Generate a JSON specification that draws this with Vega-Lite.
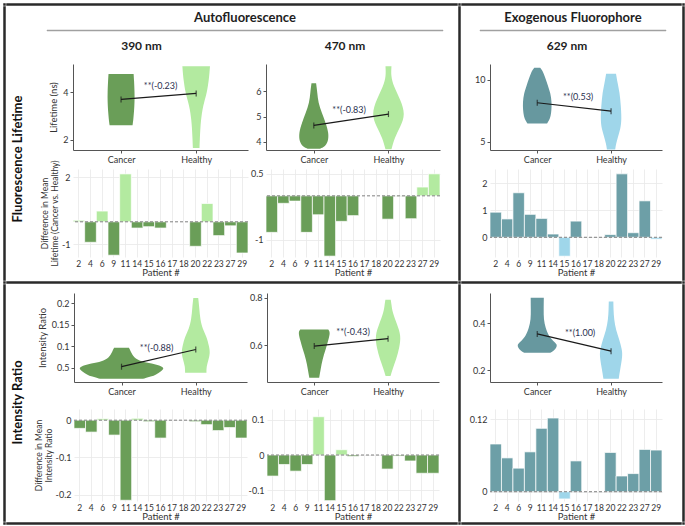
{
  "$schema": "https://vega.github.io/schema/vega-lite/v6.json",
  "padding": {"left": 3, "top": 3, "right": 2, "bottom": 1},
  "background": "white",
  "columns": 5,
  "spacing": 0,
  "align": "each",
  "datasets": {
    "violins": [
      {"panel":"L390","grp":"Cancer","v":4.77,"lo":0.833,"hi":1.167},
      {"panel":"L390","grp":"Cancer","v":4.5,"lo":0.827,"hi":1.173},
      {"panel":"L390","grp":"Cancer","v":4.0,"lo":0.82,"hi":1.18},
      {"panel":"L390","grp":"Cancer","v":3.6,"lo":0.82,"hi":1.18},
      {"panel":"L390","grp":"Cancer","v":3.2,"lo":0.827,"hi":1.173},
      {"panel":"L390","grp":"Cancer","v":2.85,"lo":0.837,"hi":1.163},
      {"panel":"L390","grp":"Cancer","v":2.61,"lo":0.847,"hi":1.153},
      {"panel":"L390","grp":"Healthy","v":5.1,"lo":1.816,"hi":2.184},
      {"panel":"L390","grp":"Healthy","v":4.8,"lo":1.823,"hi":2.177},
      {"panel":"L390","grp":"Healthy","v":4.55,"lo":1.831,"hi":2.169},
      {"panel":"L390","grp":"Healthy","v":4.0,"lo":1.856,"hi":2.144},
      {"panel":"L390","grp":"Healthy","v":3.6,"lo":1.893,"hi":2.107},
      {"panel":"L390","grp":"Healthy","v":3.28,"lo":1.916,"hi":2.084},
      {"panel":"L390","grp":"Healthy","v":2.9,"lo":1.933,"hi":2.067},
      {"panel":"L390","grp":"Healthy","v":2.57,"lo":1.943,"hi":2.057},
      {"panel":"L390","grp":"Healthy","v":2.0,"lo":1.952,"hi":2.048},
      {"panel":"L390","grp":"Healthy","v":1.65,"lo":1.956,"hi":2.044},
      {"panel":"L470","grp":"Cancer","v":6.32,"lo":0.969,"hi":1.031},
      {"panel":"L470","grp":"Cancer","v":5.95,"lo":0.953,"hi":1.047},
      {"panel":"L470","grp":"Cancer","v":5.55,"lo":0.94,"hi":1.06},
      {"panel":"L470","grp":"Cancer","v":5.15,"lo":0.893,"hi":1.107},
      {"panel":"L470","grp":"Cancer","v":4.75,"lo":0.84,"hi":1.16},
      {"panel":"L470","grp":"Cancer","v":4.35,"lo":0.8,"hi":1.2},
      {"panel":"L470","grp":"Cancer","v":4.01,"lo":0.807,"hi":1.193},
      {"panel":"L470","grp":"Cancer","v":3.81,"lo":0.853,"hi":1.147},
      {"panel":"L470","grp":"Cancer","v":3.73,"lo":0.92,"hi":1.08},
      {"panel":"L470","grp":"Healthy","v":6.99,"lo":1.96,"hi":2.04},
      {"panel":"L470","grp":"Healthy","v":6.61,"lo":1.967,"hi":2.033},
      {"panel":"L470","grp":"Healthy","v":6.21,"lo":1.933,"hi":2.067},
      {"panel":"L470","grp":"Healthy","v":5.68,"lo":1.84,"hi":2.16},
      {"panel":"L470","grp":"Healthy","v":5.08,"lo":1.773,"hi":2.227},
      {"panel":"L470","grp":"Healthy","v":4.61,"lo":1.84,"hi":2.16},
      {"panel":"L470","grp":"Healthy","v":4.15,"lo":1.92,"hi":2.08},
      {"panel":"L470","grp":"Healthy","v":3.71,"lo":1.96,"hi":2.04},
      {"panel":"L629","grp":"Cancer","v":10.98,"lo":0.96,"hi":1.04},
      {"panel":"L629","grp":"Cancer","v":10.6,"lo":0.913,"hi":1.087},
      {"panel":"L629","grp":"Cancer","v":9.55,"lo":0.856,"hi":1.144},
      {"panel":"L629","grp":"Cancer","v":8.9,"lo":0.82,"hi":1.18},
      {"panel":"L629","grp":"Cancer","v":8.2,"lo":0.804,"hi":1.196},
      {"panel":"L629","grp":"Cancer","v":7.6,"lo":0.807,"hi":1.193},
      {"panel":"L629","grp":"Cancer","v":7.07,"lo":0.817,"hi":1.183},
      {"panel":"L629","grp":"Cancer","v":6.7,"lo":0.84,"hi":1.16},
      {"panel":"L629","grp":"Cancer","v":6.47,"lo":0.867,"hi":1.133},
      {"panel":"L629","grp":"Healthy","v":10.5,"lo":1.933,"hi":2.067},
      {"panel":"L629","grp":"Healthy","v":9.8,"lo":1.913,"hi":2.087},
      {"panel":"L629","grp":"Healthy","v":8.97,"lo":1.884,"hi":2.116},
      {"panel":"L629","grp":"Healthy","v":7.9,"lo":1.867,"hi":2.133},
      {"panel":"L629","grp":"Healthy","v":6.8,"lo":1.857,"hi":2.143},
      {"panel":"L629","grp":"Healthy","v":6.0,"lo":1.873,"hi":2.127},
      {"panel":"L629","grp":"Healthy","v":5.4,"lo":1.907,"hi":2.093},
      {"panel":"L629","grp":"Healthy","v":4.8,"lo":1.933,"hi":2.067},
      {"panel":"L629","grp":"Healthy","v":4.37,"lo":1.944,"hi":2.056},
      {"panel":"I390","grp":"Cancer","v":0.0968,"lo":0.9,"hi":1.1},
      {"panel":"I390","grp":"Cancer","v":0.09,"lo":0.88,"hi":1.12},
      {"panel":"I390","grp":"Cancer","v":0.0738,"lo":0.836,"hi":1.164},
      {"panel":"I390","grp":"Cancer","v":0.065,"lo":0.733,"hi":1.267},
      {"panel":"I390","grp":"Cancer","v":0.061,"lo":0.6,"hi":1.4},
      {"panel":"I390","grp":"Cancer","v":0.053,"lo":0.427,"hi":1.573},
      {"panel":"I390","grp":"Cancer","v":0.046,"lo":0.44,"hi":1.56},
      {"panel":"I390","grp":"Cancer","v":0.041,"lo":0.48,"hi":1.52},
      {"panel":"I390","grp":"Cancer","v":0.035,"lo":0.533,"hi":1.467},
      {"panel":"I390","grp":"Cancer","v":0.03,"lo":0.6,"hi":1.4},
      {"panel":"I390","grp":"Cancer","v":0.025,"lo":0.711,"hi":1.289},
      {"panel":"I390","grp":"Healthy","v":0.2125,"lo":1.967,"hi":2.033},
      {"panel":"I390","grp":"Healthy","v":0.19,"lo":1.953,"hi":2.047},
      {"panel":"I390","grp":"Healthy","v":0.162,"lo":1.94,"hi":2.06},
      {"panel":"I390","grp":"Healthy","v":0.14,"lo":1.907,"hi":2.093},
      {"panel":"I390","grp":"Healthy","v":0.124,"lo":1.856,"hi":2.144},
      {"panel":"I390","grp":"Healthy","v":0.1,"lo":1.82,"hi":2.18},
      {"panel":"I390","grp":"Healthy","v":0.085,"lo":1.807,"hi":2.193},
      {"panel":"I390","grp":"Healthy","v":0.07,"lo":1.827,"hi":2.173},
      {"panel":"I390","grp":"Healthy","v":0.054,"lo":1.856,"hi":2.144},
      {"panel":"I390","grp":"Healthy","v":0.039,"lo":1.856,"hi":2.144},
      {"panel":"I470","grp":"Cancer","v":0.667,"lo":0.81,"hi":1.19},
      {"panel":"I470","grp":"Cancer","v":0.655,"lo":0.783,"hi":1.217},
      {"panel":"I470","grp":"Cancer","v":0.625,"lo":0.807,"hi":1.193},
      {"panel":"I470","grp":"Cancer","v":0.58,"lo":0.847,"hi":1.153},
      {"panel":"I470","grp":"Cancer","v":0.541,"lo":0.889,"hi":1.111},
      {"panel":"I470","grp":"Cancer","v":0.5,"lo":0.913,"hi":1.087},
      {"panel":"I470","grp":"Cancer","v":0.464,"lo":0.933,"hi":1.067},
      {"panel":"I470","grp":"Healthy","v":0.792,"lo":1.964,"hi":2.036},
      {"panel":"I470","grp":"Healthy","v":0.77,"lo":1.953,"hi":2.047},
      {"panel":"I470","grp":"Healthy","v":0.739,"lo":1.94,"hi":2.06},
      {"panel":"I470","grp":"Healthy","v":0.69,"lo":1.88,"hi":2.12},
      {"panel":"I470","grp":"Healthy","v":0.641,"lo":1.823,"hi":2.177},
      {"panel":"I470","grp":"Healthy","v":0.59,"lo":1.847,"hi":2.153},
      {"panel":"I470","grp":"Healthy","v":0.541,"lo":1.889,"hi":2.111},
      {"panel":"I470","grp":"Healthy","v":0.5,"lo":1.94,"hi":2.06},
      {"panel":"I470","grp":"Healthy","v":0.471,"lo":1.967,"hi":2.033},
      {"panel":"I629","grp":"Cancer","v":0.51,"lo":0.911,"hi":1.089},
      {"panel":"I629","grp":"Cancer","v":0.46,"lo":0.913,"hi":1.087},
      {"panel":"I629","grp":"Cancer","v":0.417,"lo":0.913,"hi":1.087},
      {"panel":"I629","grp":"Cancer","v":0.38,"lo":0.887,"hi":1.113},
      {"panel":"I629","grp":"Cancer","v":0.346,"lo":0.844,"hi":1.156},
      {"panel":"I629","grp":"Cancer","v":0.325,"lo":0.787,"hi":1.213},
      {"panel":"I629","grp":"Cancer","v":0.31,"lo":0.724,"hi":1.276},
      {"panel":"I629","grp":"Cancer","v":0.29,"lo":0.747,"hi":1.253},
      {"panel":"I629","grp":"Cancer","v":0.274,"lo":0.823,"hi":1.177},
      {"panel":"I629","grp":"Healthy","v":0.494,"lo":1.969,"hi":2.031},
      {"panel":"I629","grp":"Healthy","v":0.46,"lo":1.967,"hi":2.033},
      {"panel":"I629","grp":"Healthy","v":0.417,"lo":1.96,"hi":2.04},
      {"panel":"I629","grp":"Healthy","v":0.37,"lo":1.933,"hi":2.067},
      {"panel":"I629","grp":"Healthy","v":0.331,"lo":1.889,"hi":2.111},
      {"panel":"I629","grp":"Healthy","v":0.29,"lo":1.853,"hi":2.147},
      {"panel":"I629","grp":"Healthy","v":0.26,"lo":1.844,"hi":2.156},
      {"panel":"I629","grp":"Healthy","v":0.203,"lo":1.877,"hi":2.123},
      {"panel":"I629","grp":"Healthy","v":0.163,"lo":1.896,"hi":2.104}
    ],
    "means": [
      {"panel":"L390","grp":"Cancer","lo":1,"v":3.7,"label":"**(-0.23)"},
      {"panel":"L390","grp":"Healthy","lo":2,"v":3.95,"label":"**(-0.23)"},
      {"panel":"L470","grp":"Cancer","lo":1,"v":4.65,"label":"**(-0.83)"},
      {"panel":"L470","grp":"Healthy","lo":2,"v":5.1,"label":"**(-0.83)"},
      {"panel":"L629","grp":"Cancer","lo":1,"v":8.15,"label":"**(0.53)"},
      {"panel":"L629","grp":"Healthy","lo":2,"v":7.47,"label":"**(0.53)"},
      {"panel":"I390","grp":"Cancer","lo":1,"v":0.053,"label":"**(-0.88)"},
      {"panel":"I390","grp":"Healthy","lo":2,"v":0.093,"label":"**(-0.88)"},
      {"panel":"I470","grp":"Cancer","lo":1,"v":0.597,"label":"**(-0.43)"},
      {"panel":"I470","grp":"Healthy","lo":2,"v":0.628,"label":"**(-0.43)"},
      {"panel":"I629","grp":"Cancer","lo":1,"v":0.355,"label":"**(1.00)"},
      {"panel":"I629","grp":"Healthy","lo":2,"v":0.281,"label":"**(1.00)"}
    ],
    "bars": [
      {"panel":"L390","patient":"2","d":0.07},
      {"panel":"L390","patient":"4","d":-0.92},
      {"panel":"L390","patient":"6","d":0.48},
      {"panel":"L390","patient":"9","d":-1.5},
      {"panel":"L390","patient":"11","d":2.15},
      {"panel":"L390","patient":"14","d":-0.28},
      {"panel":"L390","patient":"15","d":-0.22},
      {"panel":"L390","patient":"16","d":-0.28},
      {"panel":"L390","patient":"20","d":-1.1},
      {"panel":"L390","patient":"22","d":0.82},
      {"panel":"L390","patient":"23","d":-0.62},
      {"panel":"L390","patient":"27","d":-0.18},
      {"panel":"L390","patient":"29","d":-1.4},
      {"panel":"L470","patient":"2","d":-0.83},
      {"panel":"L470","patient":"4","d":-0.17},
      {"panel":"L470","patient":"6","d":-0.12},
      {"panel":"L470","patient":"9","d":-0.83},
      {"panel":"L470","patient":"11","d":-0.43},
      {"panel":"L470","patient":"14","d":-1.37},
      {"panel":"L470","patient":"15","d":-0.58},
      {"panel":"L470","patient":"16","d":-0.45},
      {"panel":"L470","patient":"20","d":-0.53},
      {"panel":"L470","patient":"22","d":-0.01},
      {"panel":"L470","patient":"23","d":-0.52},
      {"panel":"L470","patient":"27","d":0.2},
      {"panel":"L470","patient":"29","d":0.5},
      {"panel":"L629","patient":"2","d":0.93},
      {"panel":"L629","patient":"4","d":0.68},
      {"panel":"L629","patient":"6","d":1.65},
      {"panel":"L629","patient":"9","d":0.85},
      {"panel":"L629","patient":"11","d":0.7},
      {"panel":"L629","patient":"14","d":0.12},
      {"panel":"L629","patient":"15","d":-0.7},
      {"panel":"L629","patient":"16","d":0.6},
      {"panel":"L629","patient":"20","d":0.1},
      {"panel":"L629","patient":"22","d":2.35},
      {"panel":"L629","patient":"23","d":0.17},
      {"panel":"L629","patient":"27","d":1.35},
      {"panel":"L629","patient":"29","d":-0.07},
      {"panel":"I390","patient":"2","d":-0.022},
      {"panel":"I390","patient":"4","d":-0.032},
      {"panel":"I390","patient":"6","d":0.004},
      {"panel":"I390","patient":"9","d":-0.04},
      {"panel":"I390","patient":"11","d":-0.215},
      {"panel":"I390","patient":"14","d":0.005},
      {"panel":"I390","patient":"15","d":-0.004},
      {"panel":"I390","patient":"16","d":-0.048},
      {"panel":"I390","patient":"20","d":-0.004},
      {"panel":"I390","patient":"22","d":-0.012},
      {"panel":"I390","patient":"23","d":-0.028},
      {"panel":"I390","patient":"27","d":-0.02},
      {"panel":"I390","patient":"29","d":-0.048},
      {"panel":"I470","patient":"2","d":-0.06},
      {"panel":"I470","patient":"4","d":-0.027},
      {"panel":"I470","patient":"6","d":-0.046},
      {"panel":"I470","patient":"9","d":-0.027},
      {"panel":"I470","patient":"11","d":0.109},
      {"panel":"I470","patient":"14","d":-0.13},
      {"panel":"I470","patient":"15","d":0.015},
      {"panel":"I470","patient":"16","d":-0.004},
      {"panel":"I470","patient":"20","d":-0.04},
      {"panel":"I470","patient":"22","d":-0.003},
      {"panel":"I470","patient":"23","d":-0.017},
      {"panel":"I470","patient":"27","d":-0.052},
      {"panel":"I470","patient":"29","d":-0.052},
      {"panel":"I629","patient":"2","d":0.079},
      {"panel":"I629","patient":"4","d":0.056},
      {"panel":"I629","patient":"6","d":0.039},
      {"panel":"I629","patient":"9","d":0.066},
      {"panel":"I629","patient":"11","d":0.105},
      {"panel":"I629","patient":"14","d":0.122},
      {"panel":"I629","patient":"15","d":-0.012},
      {"panel":"I629","patient":"16","d":0.051},
      {"panel":"I629","patient":"20","d":0.065},
      {"panel":"I629","patient":"22","d":0.026},
      {"panel":"I629","patient":"23","d":0.03},
      {"panel":"I629","patient":"27","d":0.07},
      {"panel":"I629","patient":"29","d":0.069}
    ]
  },
  "concat": [
    {"width": 1, "height": 1, "view": {"stroke": "#2a2a2a", "strokeWidth": 1.5, "fill": "#2a2a2a"}, "data": {"values": []}, "mark": "point", "encoding": {}},
    {"width": 450, "height": 1, "view": {"stroke": "#2a2a2a", "strokeWidth": 1.5, "fill": "#2a2a2a"}, "data": {"values": []}, "mark": "point", "encoding": {}},
    {"width": 1, "height": 1, "view": {"stroke": "#2a2a2a", "strokeWidth": 1.5, "fill": "#2a2a2a"}, "data": {"values": []}, "mark": "point", "encoding": {}},
    {"width": 219, "height": 1, "view": {"stroke": "#2a2a2a", "strokeWidth": 1.5, "fill": "#2a2a2a"}, "data": {"values": []}, "mark": "point", "encoding": {}},
    {"width": 1, "height": 1, "view": {"stroke": "#2a2a2a", "strokeWidth": 1.5, "fill": "#2a2a2a"}, "data": {"values": []}, "mark": "point", "encoding": {}},

    {"width": 1, "height": 273, "view": {"stroke": "#2a2a2a", "strokeWidth": 1.5, "fill": "#2a2a2a"}, "data": {"values": []}, "mark": "point", "encoding": {}},
    {
      "columns": 1, "align": "each", "spacing": {"row": 3, "column": 0},
      "concat": [
        {"width": 1, "height": 1, "data": {"values": []}, "mark": "point", "encoding": {}},
        {"columns": 2, "align": "each", "spacing": {"row": 0, "column": 0}, "concat": [
          {"width": 39, "height": 7, "data": {"values": []}, "mark": "point", "encoding": {}},
          {"width": 396, "height": 1, "view": {"stroke": "#a0a0a0", "strokeWidth": 0.5, "fill": "#a0a0a0"}, "title": {"text": "Autofluorescence", "fontSize": 13, "anchor": "middle", "frame": "group", "offset": 5}, "data": {"values": []}, "mark": "point", "encoding": {}}
        ]},
        {
          "columns": 3, "bounds": "flush", "align": "each", "spacing": {"row": 19, "column": 18},
          "concat": [
            {"width": 48, "height": 86, "data": {"values": [{}]}, "mark": {"type": "text", "angle": 270, "fontSize": 13, "fontWeight": "bold", "color": "#111111", "dx": -52, "dy": -13}, "encoding": {"text": {"value": "Fluorescence Lifetime"}}},
            {
              "width": 175, "height": 86,
              "title": {"text": "390 nm", "fontSize": 12, "anchor": "middle", "frame": "group", "offset": 11, "dx": -19},
              "encoding": {
                "y": {"field": "v", "type": "quantitative", "scale": {"domain": [1.57, 5.19], "nice": false, "zero": false}, "axis": {"values": [2, 4], "labelExpr": "'' + datum.value", "title": "Lifetime (ns)", "grid": false, "tickSize": 3, "labelPadding": 2, "titlePadding": 4}},
                "x": {"field": "lo", "type": "quantitative", "stack": null, "scale": {"domain": [0.36, 2.69], "nice": false, "zero": false}, "axis": {"values": [1, 2], "labelExpr": "datum.value == 1 ? 'Cancer' : 'Healthy'", "title": null, "grid": false, "tickSize": 3, "labelPadding": 2}}
              },
              "layer": [
                {"data": {"name": "violins"}, "transform": [{"filter": "datum.panel == 'L390'"}],
                 "mark": {"type": "area", "orient": "horizontal", "interpolate": "basis"},
                 "encoding": {"x2": {"field": "hi"}, "detail": {"field": "grp"}, "color": {"condition": {"test": "datum.grp == 'Cancer'", "value": "#6a9e58"}, "value": "#b3eaa0"}}},
                {"data": {"name": "means"}, "transform": [{"filter": "datum.panel == 'L390'"}],
                 "mark": {"type": "line", "color": "#1a1a1a", "strokeWidth": 1.2}},
                {"data": {"name": "means"}, "transform": [{"filter": "datum.panel == 'L390'"}],
                 "mark": {"type": "tick", "orient": "vertical", "color": "#1a1a1a", "size": 6, "thickness": 1.2}},
                {"data": {"name": "means"}, "transform": [{"filter": "datum.panel == 'L390'"}, {"aggregate": [{"op": "mean", "field": "lo", "as": "lo"}, {"op": "mean", "field": "v", "as": "v"}], "groupby": ["label"]}],
                 "mark": {"type": "text", "fontSize": 9, "dy": -10, "dx": 2, "color": "#2a3150"},
                 "encoding": {"text": {"field": "label", "type": "nominal"}}}
              ]
            },
            {
              "width": 174, "height": 86,
              "title": {"text": "470 nm", "fontSize": 12, "anchor": "middle", "frame": "group", "offset": 11, "dx": -8},
              "encoding": {
                "y": {"field": "v", "type": "quantitative", "scale": {"domain": [3.68, 7.08], "nice": false, "zero": false}, "axis": {"values": [4, 5, 6], "labelExpr": "'' + datum.value", "title": null, "grid": false, "tickSize": 3, "labelPadding": 2}},
                "x": {"field": "lo", "type": "quantitative", "stack": null, "scale": {"domain": [0.36, 2.69], "nice": false, "zero": false}, "axis": {"values": [1, 2], "labelExpr": "datum.value == 1 ? 'Cancer' : 'Healthy'", "title": null, "grid": false, "tickSize": 3, "labelPadding": 2}}
              },
              "layer": [
                {"data": {"name": "violins"}, "transform": [{"filter": "datum.panel == 'L470'"}],
                 "mark": {"type": "area", "orient": "horizontal", "interpolate": "basis"},
                 "encoding": {"x2": {"field": "hi"}, "detail": {"field": "grp"}, "color": {"condition": {"test": "datum.grp == 'Cancer'", "value": "#6a9e58"}, "value": "#b3eaa0"}}},
                {"data": {"name": "means"}, "transform": [{"filter": "datum.panel == 'L470'"}],
                 "mark": {"type": "line", "color": "#1a1a1a", "strokeWidth": 1.2}},
                {"data": {"name": "means"}, "transform": [{"filter": "datum.panel == 'L470'"}],
                 "mark": {"type": "tick", "orient": "vertical", "color": "#1a1a1a", "size": 6, "thickness": 1.2}},
                {"data": {"name": "means"}, "transform": [{"filter": "datum.panel == 'L470'"}, {"aggregate": [{"op": "mean", "field": "lo", "as": "lo"}, {"op": "mean", "field": "v", "as": "v"}], "groupby": ["label"]}],
                 "mark": {"type": "text", "fontSize": 9, "dy": -10, "dx": -2, "color": "#2a3150"},
                 "encoding": {"text": {"field": "label", "type": "nominal"}}}
              ]
            },
            {"width": 48, "height": 88, "data": {"values": []}, "mark": "point", "encoding": {}},
            {
              "width": 175, "height": 88,
              "layer": [
                {"data": {"name": "bars"}, "transform": [{"filter": "datum.panel == 'L390'"}],
                 "mark": {"type": "bar", "stroke": "white", "strokeWidth": 0.7},
                 "encoding": {
                   "x": {"field": "patient", "type": "ordinal", "scale": {"domain": ["2","4","6","9","11","14","15","16","17","18","20","22","23","27","29"], "paddingInner": 0, "paddingOuter": 0}, "axis": {"title": "Patient #", "labelAngle": 0, "labelOverlap": false, "labelFlush": false, "labelBound": false, "labelFontSize": 8.5, "ticks": false, "domain": false, "grid": true, "labelPadding": 2, "titlePadding": 0}},
                   "y": {"field": "d", "type": "quantitative", "scale": {"domain": [-1.58, 2.37], "nice": false}, "axis": {"values": [-1, 0, 1, 2], "labelExpr": "'' + datum.value", "title": ["Difference in Mean", "Lifetime (Cancer vs. Healthy)"], "titleFontSize": 8.5, "titleLineHeight": 9.5, "ticks": false, "domain": false, "grid": true, "labelPadding": 3, "titlePadding": 2}},
                   "color": {"condition": {"test": "datum.d < 0", "value": "#6a9e58"}, "value": "#b3eaa0"}
                 }},
                {"data": {"values": [{}]}, "mark": {"type": "rule", "color": "#808080", "strokeDash": [3, 2], "strokeWidth": 1}, "encoding": {"y": {"datum": 0, "type": "quantitative"}}}
              ]
            },
            {
              "width": 174, "height": 88,
              "layer": [
                {"data": {"name": "bars"}, "transform": [{"filter": "datum.panel == 'L470'"}],
                 "mark": {"type": "bar", "stroke": "white", "strokeWidth": 0.7},
                 "encoding": {
                   "x": {"field": "patient", "type": "ordinal", "scale": {"domain": ["2","4","6","9","11","14","15","16","17","18","20","22","23","27","29"], "paddingInner": 0, "paddingOuter": 0}, "axis": {"title": "Patient #", "labelAngle": 0, "labelOverlap": false, "labelFlush": false, "labelBound": false, "labelFontSize": 8.5, "ticks": false, "domain": false, "grid": true, "labelPadding": 2, "titlePadding": 0}},
                   "y": {"field": "d", "type": "quantitative", "scale": {"domain": [-1.39, 0.61], "nice": false}, "axis": {"values": [-1, -0.5, 0, 0.5], "labelExpr": "'' + datum.value", "title": null, "ticks": false, "domain": false, "grid": true, "labelPadding": 3}},
                   "color": {"condition": {"test": "datum.d < 0", "value": "#6a9e58"}, "value": "#b3eaa0"}
                 }},
                {"data": {"values": [{}]}, "mark": {"type": "rule", "color": "#808080", "strokeDash": [3, 2], "strokeWidth": 1}, "encoding": {"y": {"datum": 0, "type": "quantitative"}}}
              ]
            }
          ]
        }
      ]
    },
    {"width": 1, "height": 273, "view": {"stroke": "#2a2a2a", "strokeWidth": 1.5, "fill": "#2a2a2a"}, "data": {"values": []}, "mark": "point", "encoding": {}},
    {
      "columns": 1, "align": "each", "spacing": {"row": 3, "column": 0},
      "concat": [
        {"width": 1, "height": 1, "data": {"values": []}, "mark": "point", "encoding": {}},
        {"columns": 2, "align": "each", "spacing": {"row": 0, "column": 0}, "concat": [
          {"width": 17, "height": 7, "data": {"values": []}, "mark": "point", "encoding": {}},
          {"width": 186, "height": 1, "view": {"stroke": "#a0a0a0", "strokeWidth": 0.5, "fill": "#a0a0a0"}, "title": {"text": "Exogenous Fluorophore", "fontSize": 13, "anchor": "middle", "frame": "group", "offset": 5}, "data": {"values": []}, "mark": "point", "encoding": {}}
        ]},
        {
          "columns": 2, "bounds": "flush", "align": "each", "spacing": {"row": 19, "column": 0},
          "concat": [
            {"width": 28, "height": 86, "data": {"values": []}, "mark": "point", "encoding": {}},
            {
              "width": 172, "height": 86,
              "title": {"text": "629 nm", "fontSize": 12, "anchor": "middle", "frame": "group", "offset": 11, "dx": -9},
              "encoding": {
                "y": {"field": "v", "type": "quantitative", "scale": {"domain": [4.32, 11.29], "nice": false, "zero": false}, "axis": {"values": [5, 10], "labelExpr": "'' + datum.value", "title": null, "grid": false, "tickSize": 3, "labelPadding": 2}},
                "x": {"field": "lo", "type": "quantitative", "stack": null, "scale": {"domain": [0.36, 2.69], "nice": false, "zero": false}, "axis": {"values": [1, 2], "labelExpr": "datum.value == 1 ? 'Cancer' : 'Healthy'", "title": null, "grid": false, "tickSize": 3, "labelPadding": 2}}
              },
              "layer": [
                {"data": {"name": "violins"}, "transform": [{"filter": "datum.panel == 'L629'"}],
                 "mark": {"type": "area", "orient": "horizontal", "interpolate": "basis"},
                 "encoding": {"x2": {"field": "hi"}, "detail": {"field": "grp"}, "color": {"condition": {"test": "datum.grp == 'Cancer'", "value": "#67989f"}, "value": "#9fd6ea"}}},
                {"data": {"name": "means"}, "transform": [{"filter": "datum.panel == 'L629'"}],
                 "mark": {"type": "line", "color": "#1a1a1a", "strokeWidth": 1.2}},
                {"data": {"name": "means"}, "transform": [{"filter": "datum.panel == 'L629'"}],
                 "mark": {"type": "tick", "orient": "vertical", "color": "#1a1a1a", "size": 6, "thickness": 1.2}},
                {"data": {"name": "means"}, "transform": [{"filter": "datum.panel == 'L629'"}, {"aggregate": [{"op": "mean", "field": "lo", "as": "lo"}, {"op": "mean", "field": "v", "as": "v"}], "groupby": ["label"]}],
                 "mark": {"type": "text", "fontSize": 9, "dy": -10, "dx": 4, "color": "#2a3150"},
                 "encoding": {"text": {"field": "label", "type": "nominal"}}}
              ]
            },
            {"width": 28, "height": 88, "data": {"values": []}, "mark": "point", "encoding": {}},
            {
              "width": 172, "height": 88,
              "layer": [
                {"data": {"name": "bars"}, "transform": [{"filter": "datum.panel == 'L629'"}],
                 "mark": {"type": "bar", "stroke": "white", "strokeWidth": 0.7},
                 "encoding": {
                   "x": {"field": "patient", "type": "ordinal", "scale": {"domain": ["2","4","6","9","11","14","15","16","17","18","20","22","23","27","29"], "paddingInner": 0, "paddingOuter": 0}, "axis": {"title": "Patient #", "labelAngle": 0, "labelOverlap": false, "labelFlush": false, "labelBound": false, "labelFontSize": 8.5, "ticks": false, "domain": false, "grid": true, "labelPadding": 2, "titlePadding": 0}},
                   "y": {"field": "d", "type": "quantitative", "scale": {"domain": [-0.73, 2.53], "nice": false}, "axis": {"values": [0, 1, 2], "labelExpr": "'' + datum.value", "title": null, "ticks": false, "domain": false, "grid": true, "labelPadding": 3}},
                   "color": {"condition": {"test": "datum.d < 0", "value": "#9fd6ea"}, "value": "#6d9fa7"}
                 }},
                {"data": {"values": [{}]}, "mark": {"type": "rule", "color": "#808080", "strokeDash": [3, 2], "strokeWidth": 1}, "encoding": {"y": {"datum": 0, "type": "quantitative"}}}
              ]
            }
          ]
        }
      ]
    },
    {"width": 1, "height": 273, "view": {"stroke": "#2a2a2a", "strokeWidth": 1.5, "fill": "#2a2a2a"}, "data": {"values": []}, "mark": "point", "encoding": {}},

    {"width": 1, "height": 1, "view": {"stroke": "#2a2a2a", "strokeWidth": 1.5, "fill": "#2a2a2a"}, "data": {"values": []}, "mark": "point", "encoding": {}},
    {"width": 450, "height": 1, "view": {"stroke": "#2a2a2a", "strokeWidth": 1.5, "fill": "#2a2a2a"}, "data": {"values": []}, "mark": "point", "encoding": {}},
    {"width": 1, "height": 1, "view": {"stroke": "#2a2a2a", "strokeWidth": 1.5, "fill": "#2a2a2a"}, "data": {"values": []}, "mark": "point", "encoding": {}},
    {"width": 219, "height": 1, "view": {"stroke": "#2a2a2a", "strokeWidth": 1.5, "fill": "#2a2a2a"}, "data": {"values": []}, "mark": "point", "encoding": {}},
    {"width": 1, "height": 1, "view": {"stroke": "#2a2a2a", "strokeWidth": 1.5, "fill": "#2a2a2a"}, "data": {"values": []}, "mark": "point", "encoding": {}},

    {"width": 1, "height": 236, "view": {"stroke": "#2a2a2a", "strokeWidth": 1.5, "fill": "#2a2a2a"}, "data": {"values": []}, "mark": "point", "encoding": {}},
    {
      "columns": 1, "align": "each", "spacing": {"row": 7, "column": 0},
      "concat": [
        {"width": 1, "height": 1, "data": {"values": []}, "mark": "point", "encoding": {}},
        {
          "columns": 3, "bounds": "flush", "align": "each", "spacing": {"row": 27, "column": 20},
          "concat": [
            {"width": 47, "height": 89, "data": {"values": [{}]}, "mark": {"type": "text", "angle": 270, "fontSize": 13, "fontWeight": "bold", "color": "#111111", "dx": -65, "dy": -13}, "encoding": {"text": {"value": "Intensity Ratio"}}},
            {
              "width": 173, "height": 89,
              "encoding": {
                "y": {"field": "v", "type": "quantitative", "scale": {"domain": [0.0175, 0.224], "nice": false, "zero": false}, "axis": {"values": [0.05, 0.1, 0.15, 0.2], "labelExpr": "datum.value == 0.05 ? '0.5' : '' + datum.value", "title": "Intensity Ratio", "grid": false, "tickSize": 3, "labelPadding": 2, "titlePadding": 4}},
                "x": {"field": "lo", "type": "quantitative", "stack": null, "scale": {"domain": [0.36, 2.69], "nice": false, "zero": false}, "axis": {"values": [1, 2], "labelExpr": "datum.value == 1 ? 'Cancer' : 'Healthy'", "title": null, "grid": false, "tickSize": 3, "labelPadding": 2}}
              },
              "layer": [
                {"data": {"name": "violins"}, "transform": [{"filter": "datum.panel == 'I390'"}],
                 "mark": {"type": "area", "orient": "horizontal", "interpolate": "basis"},
                 "encoding": {"x2": {"field": "hi"}, "detail": {"field": "grp"}, "color": {"condition": {"test": "datum.grp == 'Cancer'", "value": "#6a9e58"}, "value": "#b3eaa0"}}},
                {"data": {"name": "means"}, "transform": [{"filter": "datum.panel == 'I390'"}],
                 "mark": {"type": "line", "color": "#1a1a1a", "strokeWidth": 1.2}},
                {"data": {"name": "means"}, "transform": [{"filter": "datum.panel == 'I390'"}],
                 "mark": {"type": "tick", "orient": "vertical", "color": "#1a1a1a", "size": 6, "thickness": 1.2}},
                {"data": {"name": "means"}, "transform": [{"filter": "datum.panel == 'I390'"}, {"aggregate": [{"op": "mean", "field": "lo", "as": "lo"}, {"op": "mean", "field": "v", "as": "v"}], "groupby": ["label"]}],
                 "mark": {"type": "text", "fontSize": 9, "dy": -10, "dx": -2, "color": "#2a3150"},
                 "encoding": {"text": {"field": "label", "type": "nominal"}}}
              ]
            },
            {
              "width": 172, "height": 89,
              "encoding": {
                "y": {"field": "v", "type": "quantitative", "scale": {"domain": [0.446, 0.82], "nice": false, "zero": false}, "axis": {"values": [0.6, 0.8], "labelExpr": "'' + datum.value", "title": null, "grid": false, "tickSize": 3, "labelPadding": 2}},
                "x": {"field": "lo", "type": "quantitative", "stack": null, "scale": {"domain": [0.36, 2.69], "nice": false, "zero": false}, "axis": {"values": [1, 2], "labelExpr": "datum.value == 1 ? 'Cancer' : 'Healthy'", "title": null, "grid": false, "tickSize": 3, "labelPadding": 2}}
              },
              "layer": [
                {"data": {"name": "violins"}, "transform": [{"filter": "datum.panel == 'I470'"}],
                 "mark": {"type": "area", "orient": "horizontal", "interpolate": "basis"},
                 "encoding": {"x2": {"field": "hi"}, "detail": {"field": "grp"}, "color": {"condition": {"test": "datum.grp == 'Cancer'", "value": "#6a9e58"}, "value": "#b3eaa0"}}},
                {"data": {"name": "means"}, "transform": [{"filter": "datum.panel == 'I470'"}],
                 "mark": {"type": "line", "color": "#1a1a1a", "strokeWidth": 1.2}},
                {"data": {"name": "means"}, "transform": [{"filter": "datum.panel == 'I470'"}],
                 "mark": {"type": "tick", "orient": "vertical", "color": "#1a1a1a", "size": 6, "thickness": 1.2}},
                {"data": {"name": "means"}, "transform": [{"filter": "datum.panel == 'I470'"}, {"aggregate": [{"op": "mean", "field": "lo", "as": "lo"}, {"op": "mean", "field": "v", "as": "v"}], "groupby": ["label"]}],
                 "mark": {"type": "text", "fontSize": 9, "dy": -10, "dx": 2, "color": "#2a3150"},
                 "encoding": {"text": {"field": "label", "type": "nominal"}}}
              ]
            },
            {"width": 47, "height": 92, "data": {"values": []}, "mark": "point", "encoding": {}},
            {
              "width": 173, "height": 92,
              "layer": [
                {"data": {"name": "bars"}, "transform": [{"filter": "datum.panel == 'I390'"}],
                 "mark": {"type": "bar", "stroke": "white", "strokeWidth": 0.7},
                 "encoding": {
                   "x": {"field": "patient", "type": "ordinal", "scale": {"domain": ["2","4","6","9","11","14","15","16","17","18","20","22","23","27","29"], "paddingInner": 0, "paddingOuter": 0}, "axis": {"title": "Patient #", "labelAngle": 0, "labelOverlap": false, "labelFlush": false, "labelBound": false, "labelFontSize": 8.5, "ticks": false, "domain": false, "grid": true, "labelPadding": 2, "titlePadding": 0}},
                   "y": {"field": "d", "type": "quantitative", "scale": {"domain": [-0.217, 0.03], "nice": false}, "axis": {"values": [-0.2, -0.15, -0.1, -0.05, 0], "labelExpr": "'' + datum.value", "title": ["Difference in Mean", "Intensity Ratio"], "titleFontSize": 8.5, "titleLineHeight": 9.5, "ticks": false, "domain": false, "grid": true, "labelPadding": 3, "titlePadding": 2}},
                   "color": {"condition": {"test": "datum.d < 0", "value": "#6a9e58"}, "value": "#b3eaa0"}
                 }},
                {"data": {"values": [{}]}, "mark": {"type": "rule", "color": "#808080", "strokeDash": [3, 2], "strokeWidth": 1}, "encoding": {"y": {"datum": 0, "type": "quantitative"}}}
              ]
            },
            {
              "width": 172, "height": 92,
              "layer": [
                {"data": {"name": "bars"}, "transform": [{"filter": "datum.panel == 'I470'"}],
                 "mark": {"type": "bar", "stroke": "white", "strokeWidth": 0.7},
                 "encoding": {
                   "x": {"field": "patient", "type": "ordinal", "scale": {"domain": ["2","4","6","9","11","14","15","16","17","18","20","22","23","27","29"], "paddingInner": 0, "paddingOuter": 0}, "axis": {"title": "Patient #", "labelAngle": 0, "labelOverlap": false, "labelFlush": false, "labelBound": false, "labelFontSize": 8.5, "ticks": false, "domain": false, "grid": true, "labelPadding": 2, "titlePadding": 0}},
                   "y": {"field": "d", "type": "quantitative", "scale": {"domain": [-0.131, 0.131], "nice": false}, "axis": {"values": [-0.1, -0.05, 0, 0.05, 0.1], "labelExpr": "'' + datum.value", "title": null, "ticks": false, "domain": false, "grid": true, "labelPadding": 3}},
                   "color": {"condition": {"test": "datum.d < 0", "value": "#6a9e58"}, "value": "#b3eaa0"}
                 }},
                {"data": {"values": [{}]}, "mark": {"type": "rule", "color": "#808080", "strokeDash": [3, 2], "strokeWidth": 1}, "encoding": {"y": {"datum": 0, "type": "quantitative"}}}
              ]
            }
          ]
        }
      ]
    },
    {"width": 1, "height": 236, "view": {"stroke": "#2a2a2a", "strokeWidth": 1.5, "fill": "#2a2a2a"}, "data": {"values": []}, "mark": "point", "encoding": {}},
    {
      "columns": 1, "align": "each", "spacing": {"row": 7, "column": 0},
      "concat": [
        {"width": 1, "height": 1, "data": {"values": []}, "mark": "point", "encoding": {}},
        {
          "columns": 2, "bounds": "flush", "align": "each", "spacing": {"row": 27, "column": 0},
          "concat": [
            {"width": 28, "height": 89, "data": {"values": []}, "mark": "point", "encoding": {}},
            {
              "width": 172, "height": 89,
              "encoding": {
                "y": {"field": "v", "type": "quantitative", "scale": {"domain": [0.149, 0.53], "nice": false, "zero": false}, "axis": {"values": [0.2, 0.4], "labelExpr": "'' + datum.value", "title": null, "grid": false, "tickSize": 3, "labelPadding": 2}},
                "x": {"field": "lo", "type": "quantitative", "stack": null, "scale": {"domain": [0.36, 2.69], "nice": false, "zero": false}, "axis": {"values": [1, 2], "labelExpr": "datum.value == 1 ? 'Cancer' : 'Healthy'", "title": null, "grid": false, "tickSize": 3, "labelPadding": 2}}
              },
              "layer": [
                {"data": {"name": "violins"}, "transform": [{"filter": "datum.panel == 'I629'"}],
                 "mark": {"type": "area", "orient": "horizontal", "interpolate": "basis"},
                 "encoding": {"x2": {"field": "hi"}, "detail": {"field": "grp"}, "color": {"condition": {"test": "datum.grp == 'Cancer'", "value": "#67989f"}, "value": "#9fd6ea"}}},
                {"data": {"name": "means"}, "transform": [{"filter": "datum.panel == 'I629'"}],
                 "mark": {"type": "line", "color": "#1a1a1a", "strokeWidth": 1.2}},
                {"data": {"name": "means"}, "transform": [{"filter": "datum.panel == 'I629'"}],
                 "mark": {"type": "tick", "orient": "vertical", "color": "#1a1a1a", "size": 6, "thickness": 1.2}},
                {"data": {"name": "means"}, "transform": [{"filter": "datum.panel == 'I629'"}, {"aggregate": [{"op": "mean", "field": "lo", "as": "lo"}, {"op": "mean", "field": "v", "as": "v"}], "groupby": ["label"]}],
                 "mark": {"type": "text", "fontSize": 9, "dy": -10, "dx": 6, "color": "#2a3150"},
                 "encoding": {"text": {"field": "label", "type": "nominal"}}}
              ]
            },
            {"width": 28, "height": 92, "data": {"values": []}, "mark": "point", "encoding": {}},
            {
              "width": 172, "height": 92,
              "layer": [
                {"data": {"name": "bars"}, "transform": [{"filter": "datum.panel == 'I629'"}],
                 "mark": {"type": "bar", "stroke": "white", "strokeWidth": 0.7},
                 "encoding": {
                   "x": {"field": "patient", "type": "ordinal", "scale": {"domain": ["2","4","6","9","11","14","15","16","17","18","20","22","23","27","29"], "paddingInner": 0, "paddingOuter": 0}, "axis": {"title": "Patient #", "labelAngle": 0, "labelOverlap": false, "labelFlush": false, "labelBound": false, "labelFontSize": 8.5, "ticks": false, "domain": false, "grid": true, "labelPadding": 2, "titlePadding": 0}},
                   "y": {"field": "d", "type": "quantitative", "scale": {"domain": [-0.0154, 0.137], "nice": false}, "axis": {"values": [0, 0.04, 0.08, 0.12], "labelExpr": "'' + datum.value", "title": null, "ticks": false, "domain": false, "grid": true, "labelPadding": 3}},
                   "color": {"condition": {"test": "datum.d < 0", "value": "#9fd6ea"}, "value": "#6d9fa7"}
                 }},
                {"data": {"values": [{}]}, "mark": {"type": "rule", "color": "#808080", "strokeDash": [3, 2], "strokeWidth": 1}, "encoding": {"y": {"datum": 0, "type": "quantitative"}}}
              ]
            }
          ]
        }
      ]
    },
    {"width": 1, "height": 236, "view": {"stroke": "#2a2a2a", "strokeWidth": 1.5, "fill": "#2a2a2a"}, "data": {"values": []}, "mark": "point", "encoding": {}},

    {"width": 1, "height": 1, "view": {"stroke": "#2a2a2a", "strokeWidth": 1.5, "fill": "#2a2a2a"}, "data": {"values": []}, "mark": "point", "encoding": {}},
    {"width": 450, "height": 1, "view": {"stroke": "#2a2a2a", "strokeWidth": 1.5, "fill": "#2a2a2a"}, "data": {"values": []}, "mark": "point", "encoding": {}},
    {"width": 1, "height": 1, "view": {"stroke": "#2a2a2a", "strokeWidth": 1.5, "fill": "#2a2a2a"}, "data": {"values": []}, "mark": "point", "encoding": {}},
    {"width": 219, "height": 1, "view": {"stroke": "#2a2a2a", "strokeWidth": 1.5, "fill": "#2a2a2a"}, "data": {"values": []}, "mark": "point", "encoding": {}},
    {"width": 1, "height": 1, "view": {"stroke": "#2a2a2a", "strokeWidth": 1.5, "fill": "#2a2a2a"}, "data": {"values": []}, "mark": "point", "encoding": {}}
  ],
  "config": {
    "font": "Lato",
    "view": {"stroke": null},
    "axis": {"labelFont": "Lato", "titleFont": "Lato", "labelFontSize": 9, "labelColor": "#333333", "titleFontSize": 9.5, "titleFontWeight": "normal", "titleColor": "#333333", "domainColor": "#555555", "tickColor": "#555555", "gridColor": "#e8e8e8", "gridWidth": 0.8},
    "title": {"font": "Lato", "fontWeight": "bold", "color": "#1e1e1e"}
  }
}
